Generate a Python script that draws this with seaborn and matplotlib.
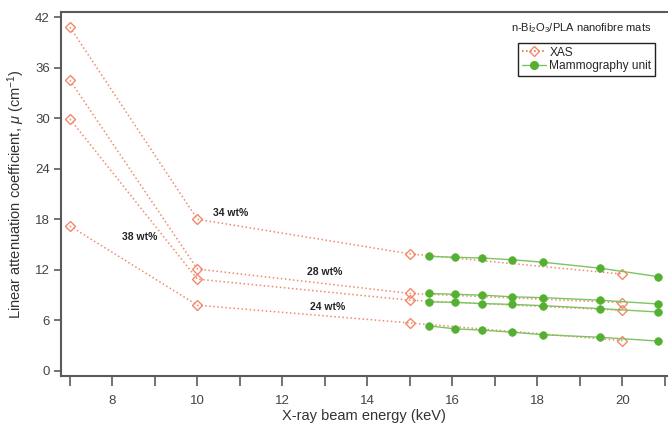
import matplotlib
matplotlib.use("Agg")
import matplotlib.pyplot as plt
from matplotlib.lines import Line2D
from matplotlib.ticker import MultipleLocator
import numpy as np
import pandas as pd
import seaborn as sns

# XAS measurements (keV) for the four nanofibre mats
xas_energy = [7, 10, 15, 20]
xas_a = [40.8, 18.0, 13.9, 11.5]
xas_b = [34.5, 12.1, 9.2, 8.1]
xas_c = [29.9, 10.9, 8.4, 7.2]
xas_d = [17.2, 7.8, 5.7, 3.6]

# Mammography unit measurements
mam_energy = [15.45, 16.06, 16.70, 17.41, 18.14, 19.47, 20.84]
mam_a = [13.6, 13.5, 13.4, 13.2, 12.9, 12.2, 11.2]
mam_b = [9.2, 9.1, 9.0, 8.8, 8.7, 8.4, 7.95]
mam_c = [8.2, 8.15, 8.0, 7.9, 7.75, 7.4, 7.0]
mam_d = [5.35, 5.0, 4.85, 4.6, 4.3, 4.0, 3.55]

series_names = ["a", "b", "c", "d"]

xas_df = pd.concat([
    pd.DataFrame({"energy": xas_energy, "mu": vals, "mat": name})
    for name, vals in zip(series_names, [xas_a, xas_b, xas_c, xas_d])
])
mam_df = pd.concat([
    pd.DataFrame({"energy": mam_energy, "mu": vals, "mat": name})
    for name, vals in zip(series_names, [mam_a, mam_b, mam_c, mam_d])
])

sns.set_style("white")
plt.rcParams["font.family"] = ["Liberation Sans", "DejaVu Sans"]
plt.rcParams["mathtext.fontset"] = "custom"
plt.rcParams["mathtext.rm"] = "Liberation Sans"
plt.rcParams["mathtext.it"] = "Liberation Sans:italic"

salmon = "#f3896a"
green_line = "#7cc462"
green_mark = "#55b032"
axis_col = "#5a5a5a"

fig = plt.figure(figsize=(6.68, 4.26), dpi=100)
ax = fig.add_axes([61 / 668, 1 - 375.7 / 426, (667 - 61) / 668, (375.7 - 12) / 426])

sns.lineplot(data=xas_df, x="energy", y="mu", units="mat", estimator=None,
             color=salmon, linestyle=":", linewidth=1.1, marker="D",
             markersize=5, markerfacecolor="none", markeredgecolor=salmon,
             markeredgewidth=1.0, legend=False, ax=ax, zorder=2)
sns.lineplot(data=mam_df, x="energy", y="mu", units="mat", estimator=None,
             color=green_line, linestyle="-", linewidth=1.0, marker="o",
             markersize=5.5, markerfacecolor=green_mark, markeredgecolor=green_mark,
             markeredgewidth=0.5, legend=False, ax=ax, zorder=3)

ax.set_xlim(6.79, 21.05)
ax.set_ylim(-0.56, 42.6)
ax.xaxis.set_major_locator(MultipleLocator(2))
ax.xaxis.set_minor_locator(MultipleLocator(1))
ax.yaxis.set_major_locator(MultipleLocator(6))

for side in ["left", "bottom", "top"]:
    ax.spines[side].set_color(axis_col)
    ax.spines[side].set_linewidth(1.5)
ax.spines["right"].set_visible(False)

ax.tick_params(axis="x", which="both", direction="out", length=7, width=1.2,
               color=axis_col, labelsize=9.5, labelcolor="#444444", pad=7,
               bottom=True)
ax.tick_params(axis="y", which="both", direction="out", length=5, width=1.2,
               color=axis_col, labelsize=9.5, labelcolor="#444444", pad=3,
               left=True)

ax.set_xlabel("X-ray beam energy (keV)", fontsize=10.5, color="#333333", labelpad=1)
ax.set_ylabel(r"Linear attenuation coefficient, $\mathit{\mu}$ (cm$^{-1}$)",
              fontsize=10.5, color="#333333", labelpad=6)

# loading labels
label_pos = {"34 wt%": (10.78, 18.74), "38 wt%": (8.64, 15.9),
             "28 wt%": (13.0, 11.74), "24 wt%": (13.06, 7.59)}
for txt, (xv, yv) in label_pos.items():
    ax.text(xv, yv, txt, fontsize=7.5, fontweight="bold", color="#222222",
            ha="center", va="center")

fig.text(581 / 668, 1 - 28 / 426, r"n-Bi$_2$O$_3$/PLA nanofibre mats",
         fontsize=8, color="#222222", ha="center", va="center")

handles = [
    Line2D([], [], color="#e8503c", linestyle=":", linewidth=1.1, marker="D",
           markersize=5, markerfacecolor="none", markeredgecolor=salmon),
    Line2D([], [], color=green_line, linestyle="-", linewidth=1.0, marker="o",
           markersize=5.5, markerfacecolor=green_mark, markeredgecolor=green_mark),
]
leg = ax.legend(handles, ["XAS", "Mammography unit"], loc="upper right",
                bbox_to_anchor=(655 / 668, 1 - 43 / 426),
                bbox_transform=fig.transFigure, borderaxespad=0,
                fancybox=False, framealpha=1, edgecolor="#222222",
                fontsize=8.6, borderpad=0.3, labelspacing=0.15,
                handletextpad=0.3, handlelength=2.0)
leg.get_frame().set_linewidth(1.0)

fig.savefig("out.png", dpi=100)
